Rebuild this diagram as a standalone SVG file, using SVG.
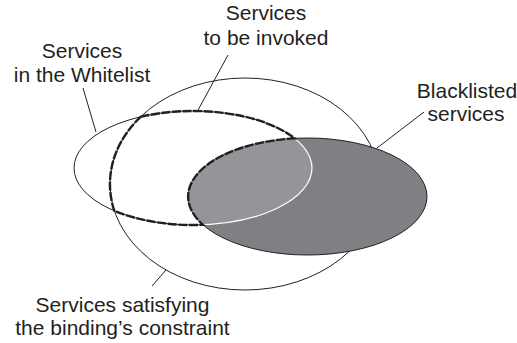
<svg xmlns="http://www.w3.org/2000/svg" width="517" height="343" viewBox="0 0 517 343">
<style>
.thin{fill:none;stroke:#231f20;stroke-width:1}
.lbl{font-family:"Liberation Sans",Arial,sans-serif;font-size:21px;fill:#231f20;text-anchor:middle}
.dash{fill:none;stroke:#231f20;stroke-width:2.4;stroke-dasharray:9 1.6}
</style>
<defs>
<clipPath id="clipD"><ellipse cx="307.5" cy="196.5" rx="119.5" ry="58.5"/></clipPath>
</defs>
<rect width="517" height="343" fill="#fff"/>
<g id="constraint">
<ellipse class="thin" cx="245" cy="184" rx="135" ry="106"/>
<text class="lbl" x="122.5" y="311.5">Services satisfying</text>
<text class="lbl" x="122.5" y="335">the binding’s constraint</text>
</g>
<g id="whitelist">
<ellipse class="thin" cx="193" cy="168" rx="119" ry="57"/>
<text class="lbl" x="82" y="58">Services</text>
<text class="lbl" x="82" y="81.5">in the Whitelist</text>
</g>
<g id="blacklisted">
<ellipse cx="307.5" cy="196.5" rx="119.5" ry="58.5" fill="#7f8083" stroke="#231f20" stroke-width="1"/>
<ellipse cx="193" cy="168" rx="119" ry="57" fill="#939598" stroke="#fff" stroke-width="1.2" clip-path="url(#clipD)"/>
<text class="lbl" x="467" y="98">Blacklisted</text>
<text class="lbl" x="466" y="121">services</text>
</g>
<g id="invoked">
<path class="dash" d="M140.6 116.8 A119 57 0 0 1 294.7 138.4 A119.5 58.5 0 0 0 203 224.8 A119 57 0 0 1 114.3 210.8 A135 106 0 0 1 140.6 116.8 Z"/>
<text class="lbl" x="266" y="20">Services</text>
<text class="lbl" x="266" y="45">to be invoked</text>
</g>
<g id="connectors" class="thin">
<line x1="83" y1="88" x2="96" y2="132"/>
<line x1="228" y1="55" x2="197" y2="112"/>
<line x1="424" y1="112" x2="377" y2="148"/>
<line x1="166" y1="270" x2="152" y2="286"/>
</g>
</svg>
